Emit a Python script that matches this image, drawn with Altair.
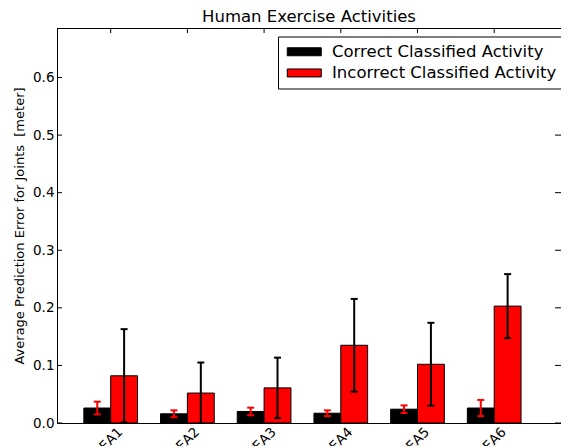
import json
import altair as alt
import pandas as pd

# ---------------- data ----------------
activities = ["EA1", "EA2", "EA3", "EA4", "EA5", "EA6"]
series_names = ["Correct Classified Activity", "Incorrect Classified Activity"]
correct_mean = [0.026, 0.016, 0.020, 0.017, 0.024, 0.026]
correct_err = [0.011, 0.006, 0.0066, 0.005, 0.0066, 0.014]
incorrect_mean = [0.082, 0.052, 0.061, 0.135, 0.102, 0.203]
incorrect_err = [0.081, 0.053, 0.0525, 0.0805, 0.072, 0.0556]
y_ticks = [0.0, 0.1, 0.2, 0.3, 0.4, 0.5, 0.6]

bar_colors = ["#000000", "#ff0000"]
err_colors = ["#ff0000", "#000000"]
bar_w = 0.35

rows = []
for i, a in enumerate(activities):
    pairs = [(correct_mean[i], correct_err[i]), (incorrect_mean[i], incorrect_err[i])]
    for s, (m, e) in enumerate(pairs):
        rows.append(dict(activity=a, series=series_names[s],
                         x0=i + s * bar_w, x1=i + (s + 1) * bar_w,
                         xc=i + (s + 0.5) * bar_w, base=0.0,
                         val=m, lo=m - e, hi=m + e, ecolor=err_colors[s]))
df = pd.DataFrame(rows)
tick_pos = [i + bar_w for i in range(len(activities))]
df_xt = pd.DataFrame({"t": tick_pos})
df_yt = pd.DataFrame({"v": y_ticks})

W, H = 504, 395
FONT = "DejaVu Sans"

x_scale = alt.Scale(domain=[-0.35, -0.35 + W / 76.7], nice=False, zero=False, padding=0)
y_scale = alt.Scale(domain=[0, 0.686], nice=False, zero=False, padding=0)

label_expr = json.dumps(activities) + "[round(datum.value - %s)]" % bar_w

x_axis = alt.Axis(values=tick_pos, labelExpr=label_expr, title=None, grid=False,
                  domain=True, domainColor="black", domainWidth=1,
                  ticks=False, labelAngle=-45, labelAlign="center",
                  labelBaseline="middle", labelPadding=16, labelFontSize=13.5,
                  labelFont=FONT, labelColor="black", labelOverlap=False,
                  labelFlush=False, labelBound=False)
y_axis = alt.Axis(values=y_ticks, format=".1f",
                  title="Average Prediction Error for Joints\u00a0 [meter]",
                  grid=False, domain=True, domainColor="black", domainWidth=1,
                  ticks=False, labelPadding=3,
                  labelFontSize=13.5, labelFont=FONT, labelColor="black",
                  titleFont=FONT, titleFontSize=13, titleFontWeight="normal",
                  titleColor="black", titlePadding=6)

legend = alt.Legend(title=None, orient="none", legendX=221, legendY=8.5,
                    direction="vertical", strokeColor="black", fillColor="white",
                    padding=7, labelFontSize=16.5, labelFont=FONT, labelColor="black",
                    labelLimit=500,
                    symbolType="M-4.25,-1H4.25V1H-4.25Z", symbolSize=64,
                    symbolStrokeColor="black", symbolStrokeWidth=1, symbolOffset=11,
                    symbolOpacity=1, labelOffset=19.5, rowPadding=4.2, cornerRadius=0)

bars = alt.Chart(df).mark_bar(stroke="black", strokeWidth=1, opacity=1).encode(
    x=alt.X("x0:Q", scale=x_scale, axis=x_axis),
    x2="x1:Q",
    y=alt.Y("val:Q", scale=y_scale, axis=y_axis),
    y2="base:Q",
    color=alt.Color("series:N", scale=alt.Scale(domain=series_names, range=bar_colors),
                    legend=legend),
)

err_line = alt.Chart(df).mark_rule(strokeWidth=2, clip=True).encode(
    x=alt.X("xc:Q", scale=x_scale),
    y=alt.Y("lo:Q", scale=y_scale),
    y2="hi:Q",
    color=alt.Color("ecolor:N", scale=None),
)
cap_lo = alt.Chart(df).mark_rule(strokeWidth=2, clip=True, xOffset=-3.5, x2Offset=3.5).encode(
    x=alt.X("xc:Q", scale=x_scale),
    x2="xc:Q",
    y=alt.Y("lo:Q", scale=y_scale),
    color=alt.Color("ecolor:N", scale=None),
)
cap_hi = alt.Chart(df).mark_rule(strokeWidth=2, clip=True, xOffset=-3.5, x2Offset=3.5).encode(
    x=alt.X("xc:Q", scale=x_scale),
    x2="xc:Q",
    y=alt.Y("hi:Q", scale=y_scale),
    color=alt.Color("ecolor:N", scale=None),
)

yt_left = alt.Chart(df_yt).mark_rule(color="black", strokeWidth=1).encode(
    y=alt.Y("v:Q", scale=y_scale), x=alt.value(0), x2=alt.value(5))
yt_right = alt.Chart(df_yt).mark_rule(color="black", strokeWidth=1).encode(
    y=alt.Y("v:Q", scale=y_scale), x=alt.value(W - 6), x2=alt.value(W))
xt_top = alt.Chart(df_xt).mark_rule(color="black", strokeWidth=1).encode(
    x=alt.X("t:Q", scale=x_scale), y=alt.value(0), y2=alt.value(5))
top_spine = alt.Chart(df_xt).mark_rule(color="black", strokeWidth=1).encode(
    x=alt.value(0), x2=alt.value(W), y=alt.value(0.5))

chart = alt.layer(bars, err_line, cap_lo, cap_hi, yt_left, yt_right, xt_top, top_spine).properties(
    width=W, height=H,
    title=alt.Title("Human Exercise Activities", font=FONT, fontSize=16.5,
                    fontWeight="normal", color="black", anchor="middle", offset=2),
    autosize=alt.AutoSizeParams(type="none"),
    padding={"left": 49, "top": 20, "right": 0, "bottom": 23},
).configure_view(strokeWidth=0).configure(background="white")

chart.save("out.html", embed_options={"renderer": "svg", "actions": False})
